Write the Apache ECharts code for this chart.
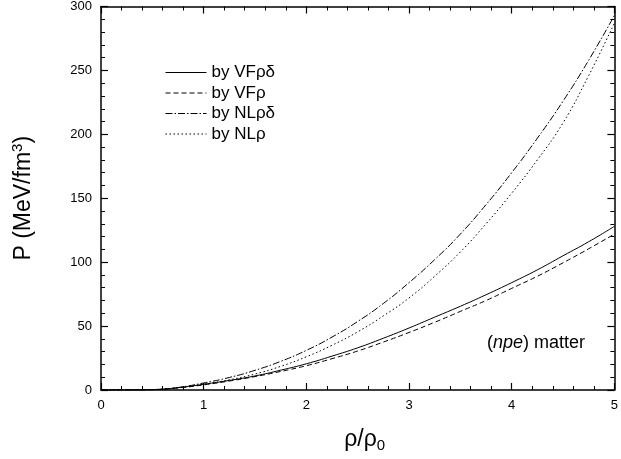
<!DOCTYPE html>
<html><head><meta charset="utf-8">
<script src="https://cdn.jsdelivr.net/npm/echarts@6/dist/echarts.min.js"></script>
<style>html,body{margin:0;padding:0;background:#fff}#c{width:621px;height:459px}</style>
</head><body><div id="c"></div>
<script>
const xValues = [0,0.25,0.5,0.75,1,1.25,1.5,1.75,2,2.25,2.5,2.75,3,3.25,3.5,3.75,4,4.25,4.5,4.75,5];
const vfRhoDelta = [0,0,0.3,1.8,4.5,7.5,11,15.5,20.5,26.5,33,40.5,48.5,57,65.5,74.5,84,94,105,116,128];
const vfRho      = [0,0,0.3,1.6,4,7,10.5,14.5,19,24.5,30.5,37.5,45,53,61.5,70,79.5,89,99.5,110.5,122];
const nlRhoDelta = [0,0,0.3,2,5.5,9.8,15.4,22.4,31,41.4,53.6,67.7,84,102,122,145,170,197,226,258,293];
const nlRho      = [0,0,0.3,1.8,4.5,8,12.5,18.5,26,35,45.5,58,72,89,108,130,154,180,209,246,287];
const seriesNames = ['by VF\u03c1\u03b4','by VF\u03c1','by NL\u03c1\u03b4','by NL\u03c1'];
const xTicks = [0,1,2,3,4,5];
const yTicks = [0,50,100,150,200,250,300];

const FONT = 'Liberation Sans, Arial, sans-serif';
function pairs(ys){ return xValues.map((x,i)=>[x,ys[i]]); }
const dashes = ['solid',[5,3],[7,2,1.5,2],[1.5,2.5]];
const datasets = [vfRhoDelta, vfRho, nlRhoDelta, nlRho];

const axisCommon = {
  min: 0,
  axisLine: {show:true, onZero:false, lineStyle:{color:'#000', width:1.5}},
  axisTick: {show:true, inside:true, length:7, lineStyle:{color:'#000', width:1.2}},
  minorTick: {show:true, splitNumber:5, length:4, lineStyle:{color:'#000', width:1}},
  splitLine: {show:false}
};

const chart = echarts.init(document.getElementById('c'), null, {renderer:'canvas'});
chart.setOption({
  animation: false,
  backgroundColor: '#fff',
  textStyle: {fontFamily: FONT},
  grid: {left: 101, right: 4, top: 6, bottom: 69, containLabel: false},
  legend: {
    orient: 'vertical', left: 165, top: 64, padding: 0,
    itemWidth: 41, itemHeight: 14, itemGap: 3.5,
    itemStyle: {opacity: 0},
    lineStyle: {width: 1},
    textStyle: {fontFamily: FONT, fontSize: 17, lineHeight: 17, color: '#000'},
    data: seriesNames
  },
  title: {
    text: '({i|npe}) matter',
    left: 487, top: 334, padding: 0,
    textStyle: {fontFamily: FONT, fontSize: 18, fontWeight: 'normal', color: '#000',
      rich: {i: {fontFamily: FONT, fontSize: 18, fontStyle: 'italic', color:'#000'}}}
  },
  xAxis: [
    Object.assign({}, axisCommon, {
      type: 'value', position: 'bottom', max: 5, interval: 1,
      axisLabel: {show:true, color:'#000', fontSize:13, fontFamily:FONT, margin:9,
        formatter: v => xTicks.includes(v) ? String(v) : ''},
      name: '\u03c1/\u03c1{sub|0}', nameLocation: 'middle', nameGap: 36,
      nameTextStyle: {fontFamily: FONT, fontSize: 23, color:'#000', padding:[0,0,0,14],
        rich: {sub: {fontFamily: FONT, fontSize: 15, verticalAlign:'bottom', padding:[12,0,0,0], color:'#000'}}}
    }),
    Object.assign({}, axisCommon, {
      type: 'value', position: 'top', max: 5, interval: 1,
      axisLabel: {show:false}
    })
  ],
  yAxis: [
    Object.assign({}, axisCommon, {
      type: 'value', position: 'left', max: 300, interval: 50,
      axisLabel: {show:true, color:'#000', fontSize:13, fontFamily:FONT, margin:9,
        formatter: v => yTicks.includes(v) ? String(v) : ''},
      name: 'P (MeV/fm{sup|3})', nameLocation: 'middle', nameGap: 64, nameRotate: 90,
      nameTextStyle: {fontFamily: FONT, fontSize: 23, color:'#000',
        rich: {sup: {fontFamily: FONT, fontSize: 15, verticalAlign:'top', padding:[0,0,12,0], color:'#000'}}}
    }),
    Object.assign({}, axisCommon, {
      type: 'value', position: 'right', max: 300, interval: 50,
      axisLabel: {show:false}
    })
  ],
  series: datasets.map((d,i)=>({
    name: seriesNames[i], type: 'line', data: pairs(d),
    xAxisIndex: 0, yAxisIndex: 0,
    smooth: true, symbol: 'none', showSymbol: false,
    lineStyle: {color:'#000', width: 1, type: dashes[i]},
    itemStyle: {color:'#000'}
  }))
});
</script></body></html>
